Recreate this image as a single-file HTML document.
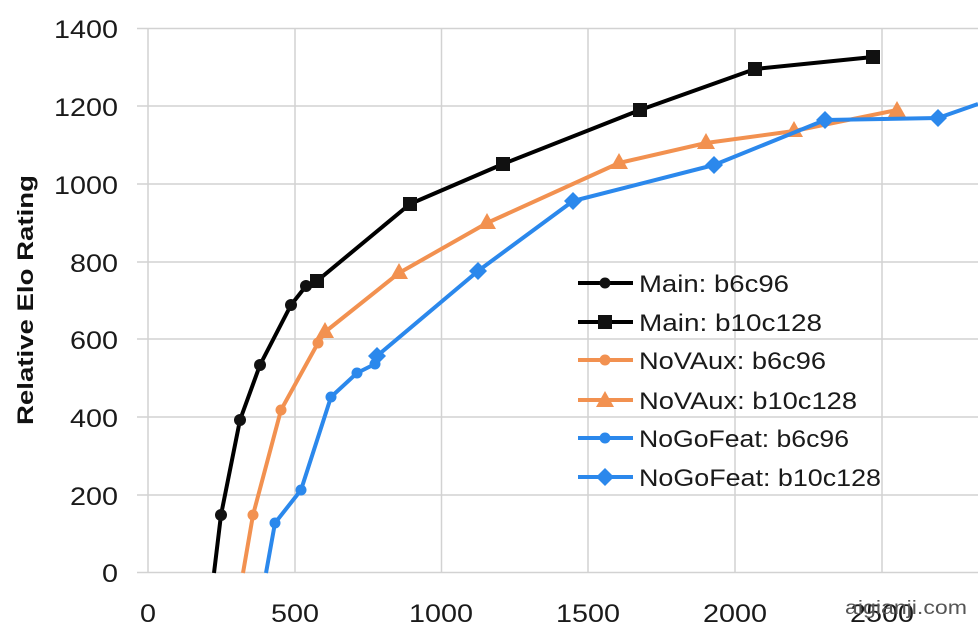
<!DOCTYPE html>
<html><head><meta charset="utf-8"><style>
html,body{margin:0;padding:0;background:#fff;}
svg{display:block;font-family:"Liberation Sans",sans-serif;}
</style></head><body>
<svg width="978" height="630" viewBox="0 0 978 630">
<g stroke="#d2d2d2" stroke-width="1.5">
<line x1="137" y1="28.5" x2="978" y2="28.5"/>
<line x1="137" y1="106" x2="978" y2="106"/>
<line x1="137" y1="184" x2="978" y2="184"/>
<line x1="137" y1="262" x2="978" y2="262"/>
<line x1="137" y1="339" x2="978" y2="339"/>
<line x1="137" y1="417" x2="978" y2="417"/>
<line x1="137" y1="495" x2="978" y2="495"/>
<line x1="137" y1="572.5" x2="978" y2="572.5"/>
<line x1="148" y1="28" x2="148" y2="573"/>
<line x1="295" y1="28" x2="295" y2="573"/>
<line x1="441.5" y1="28" x2="441.5" y2="573"/>
<line x1="588" y1="28" x2="588" y2="573"/>
<line x1="735" y1="28" x2="735" y2="573"/>
<line x1="882" y1="28" x2="882" y2="573"/>
</g>
<g font-size="25" fill="#1a1a1a">
<text x="54" y="38" textLength="64" lengthAdjust="spacingAndGlyphs">1400</text>
<text x="54" y="116" textLength="64" lengthAdjust="spacingAndGlyphs">1200</text>
<text x="54" y="194" textLength="64" lengthAdjust="spacingAndGlyphs">1000</text>
<text x="70" y="272" textLength="48" lengthAdjust="spacingAndGlyphs">800</text>
<text x="70" y="349" textLength="48" lengthAdjust="spacingAndGlyphs">600</text>
<text x="70" y="427" textLength="48" lengthAdjust="spacingAndGlyphs">400</text>
<text x="70" y="505" textLength="48" lengthAdjust="spacingAndGlyphs">200</text>
<text x="102" y="582" textLength="16" lengthAdjust="spacingAndGlyphs">0</text>
</g>
<g font-size="25" fill="#1a1a1a">
<text x="140" y="622" textLength="16" lengthAdjust="spacingAndGlyphs">0</text>
<text x="271" y="622" textLength="48" lengthAdjust="spacingAndGlyphs">500</text>
<text x="409" y="622" textLength="64" lengthAdjust="spacingAndGlyphs">1000</text>
<text x="556" y="622" textLength="64" lengthAdjust="spacingAndGlyphs">1500</text>
<text x="703" y="622" textLength="64" lengthAdjust="spacingAndGlyphs">2000</text>
<text x="850" y="622" textLength="64" lengthAdjust="spacingAndGlyphs">2500</text>
</g>
<text transform="translate(33,425) rotate(-90)" font-size="22" font-weight="bold" fill="#111" textLength="250" lengthAdjust="spacingAndGlyphs">Relative Elo Rating</text>
<!-- Black -->
<polyline fill="none" stroke="#000" stroke-width="4" stroke-linejoin="round" points="214,573 221,515 240,420 260,365 291,305 306,286 317,281 410,204 503,164 640,110 755,69 873,57"/>
<g fill="#111"><circle cx="221" cy="515" r="6"/><circle cx="240" cy="420" r="6"/><circle cx="260" cy="365" r="6"/><circle cx="291" cy="305" r="6"/><circle cx="306" cy="286" r="6"/></g>
<g fill="#111"><rect x="310" y="274" width="14" height="14"/><rect x="403" y="197" width="14" height="14"/><rect x="496" y="157" width="14" height="14"/><rect x="633" y="103" width="14" height="14"/><rect x="748" y="62" width="14" height="14"/><rect x="866" y="50" width="14" height="14"/></g>
<!-- Orange -->
<polyline fill="none" stroke="#f29150" stroke-width="4" stroke-linejoin="round" points="243,573 253,515 281,410 318,343 325,332 399,273 487,223 619,163 706,143 794,131 897,110"/>
<g fill="#f29150"><circle cx="253" cy="515" r="5.5"/><circle cx="281" cy="410" r="5.5"/><circle cx="318" cy="343" r="5.5"/></g>
<g fill="#f29150"><polygon points="325,322 334,338 316,338"/><polygon points="399,263 408,279 390,279"/><polygon points="487,213 496,229 478,229"/><polygon points="619,153 628,169 610,169"/><polygon points="706,133 715,149 697,149"/><polygon points="794,121 803,137 785,137"/><polygon points="897,101 906,117 888,117"/></g>
<!-- Blue -->
<polyline fill="none" stroke="#2b88ec" stroke-width="4" stroke-linejoin="round" points="266,573 275,523 301,490 331,397 357,373 375,364 377,356 478,271 573,201 714,165 825,120 938,118 978,104"/>
<g fill="#2b88ec"><circle cx="275" cy="523" r="5.5"/><circle cx="301" cy="490" r="5.5"/><circle cx="331" cy="397" r="5.5"/><circle cx="357" cy="373" r="5.5"/><circle cx="375" cy="364" r="5.5"/></g>
<g fill="#2b88ec"><polygon points="377,347 386,356 377,365 368,356"/><polygon points="478,262 487,271 478,280 469,271"/><polygon points="573,192 582,201 573,210 564,201"/><polygon points="714,156 723,165 714,174 705,165"/><polygon points="825,111 834,120 825,129 816,120"/><polygon points="938,109 947,118 938,127 929,118"/></g>
<!-- Legend -->
<g stroke-width="4">
<line x1="578" y1="283" x2="633" y2="283" stroke="#000"/>
<line x1="578" y1="322" x2="633" y2="322" stroke="#000"/>
<line x1="578" y1="360" x2="633" y2="360" stroke="#f29150"/>
<line x1="578" y1="400" x2="633" y2="400" stroke="#f29150"/>
<line x1="578" y1="438" x2="633" y2="438" stroke="#2b88ec"/>
<line x1="578" y1="477" x2="633" y2="477" stroke="#2b88ec"/>
</g>
<circle cx="605" cy="283" r="5.5" fill="#111"/>
<rect x="598" y="315" width="14" height="14" fill="#111"/>
<circle cx="605" cy="360" r="5.5" fill="#f29150"/>
<polygon points="605,391 614,407 596,407" fill="#f29150"/>
<circle cx="605" cy="438" r="5.5" fill="#2b88ec"/>
<polygon points="605,468 614,477 605,486 596,477" fill="#2b88ec"/>
<g font-size="24" fill="#1a1a1a">
<text x="639" y="292" textLength="150" lengthAdjust="spacingAndGlyphs">Main: b6c96</text>
<text x="639" y="331" textLength="183" lengthAdjust="spacingAndGlyphs">Main: b10c128</text>
<text x="639" y="369" textLength="187" lengthAdjust="spacingAndGlyphs">NoVAux: b6c96</text>
<text x="639" y="409" textLength="218" lengthAdjust="spacingAndGlyphs">NoVAux: b10c128</text>
<text x="639" y="447" textLength="210" lengthAdjust="spacingAndGlyphs">NoGoFeat: b6c96</text>
<text x="639" y="486" textLength="242" lengthAdjust="spacingAndGlyphs">NoGoFeat: b10c128</text>
</g>
<text x="845" y="614" font-size="19" fill="#555" textLength="122" lengthAdjust="spacingAndGlyphs">aigianji.com</text>
</svg>
</body></html>
